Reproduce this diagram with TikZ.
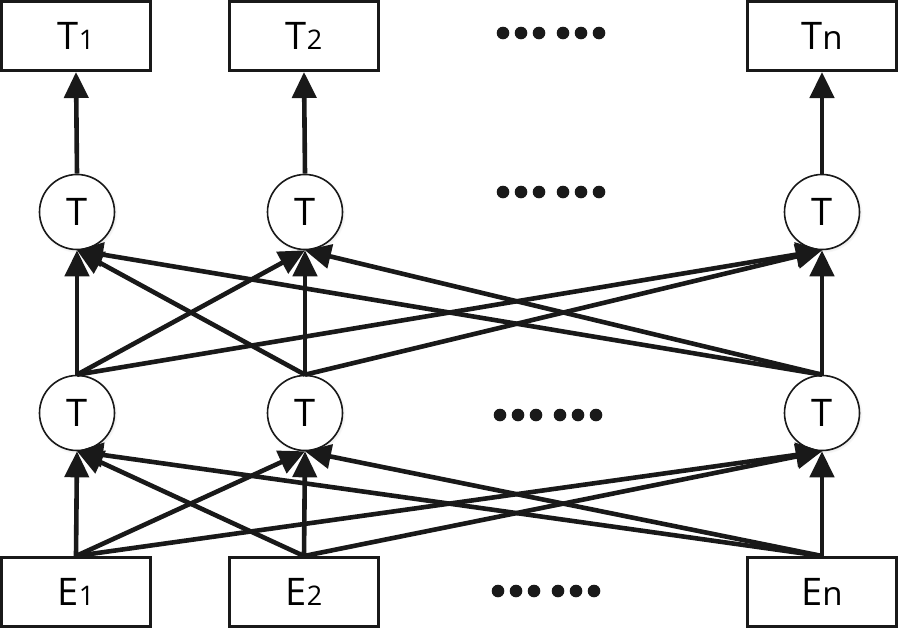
\documentclass[tikz,border=0pt]{standalone}
\usepackage{fontspec}
\setmainfont{Open Sans}
\usetikzlibrary{arrows.meta,shadows}
\newcommand{\mainsz}{\fontsize{38}{40}\selectfont}
\newcommand{\subsz}{\fontsize{27}{28}\selectfont}
\newcommand{\nsz}{\fontsize{33}{34}\selectfont}
\begin{document}
\begin{tikzpicture}[x=1pt,y=-1pt,
  box/.style={draw=black!90, line width=3pt, fill=white, minimum width=149pt, minimum height=69pt, inner sep=0pt, font=\mainsz},
  neuron/.style={circle, draw=black!90, line width=1.6pt, fill=white, minimum size=75pt, inner sep=0pt, font=\mainsz,
     circular drop shadow={shadow scale=1.06, shadow xshift=0.8pt, shadow yshift=-1.2pt, opacity=0.25}},
  arr/.style={line width=4.6pt, black!90, -{Triangle[length=26pt,width=24pt]}},
  dotfill/.style={fill=black!90}
]
\useasboundingbox (0,0) rectangle (899,630);
% top boxes
\node[box] (t1) at (76,36) {T{\subsz 1}};
\node[box] (t2) at (304,36) {T{\subsz 2}};
\node[box] (tn) at (822,36) {T{\nsz n}};
% upper circles
\node[neuron] (a1) at (77,212) {T};
\node[neuron] (a2) at (305,212) {T};
\node[neuron] (an) at (822,212) {T};
% lower circles
\node[neuron] (b1) at (77,413) {T};
\node[neuron] (b2) at (305,413) {T};
\node[neuron] (bn) at (822,413) {T};
% bottom boxes
\node[box] (e1) at (76,592) {E{\subsz 1}};
\node[box] (e2) at (304,592) {E{\subsz 2}};
\node[box] (en) at (822,592) {E{\nsz n}};
% connectors
\foreach \s in {e1,e2,en} {
  \foreach \t in {b1,b2,bn} {
    \draw[arr] (\s.north) -- (\t.south);
  }
}
\foreach \s in {b1,b2,bn} {
  \foreach \t in {a1,a2,an} {
    \draw[arr] (\s.north) -- (\t.south);
  }
}
\draw[arr] (a1.north) -- (t1.south);
\draw[arr] (a2.north) -- (t2.south);
\draw[arr] (an.north) -- (tn.south);
% dots
\foreach \x in {503,521,539,563,581,599} {\fill[dotfill] (\x,33) circle (6.3);}
\foreach \x in {503,521,539,563,581,599} {\fill[dotfill] (\x,192) circle (6.3);}
\foreach \x in {500,518,536,560,578,596} {\fill[dotfill] (\x,415) circle (6.3);}
\foreach \x in {498,516,534,558,576,594} {\fill[dotfill] (\x,591) circle (6.3);}
\end{tikzpicture}
\end{document}
